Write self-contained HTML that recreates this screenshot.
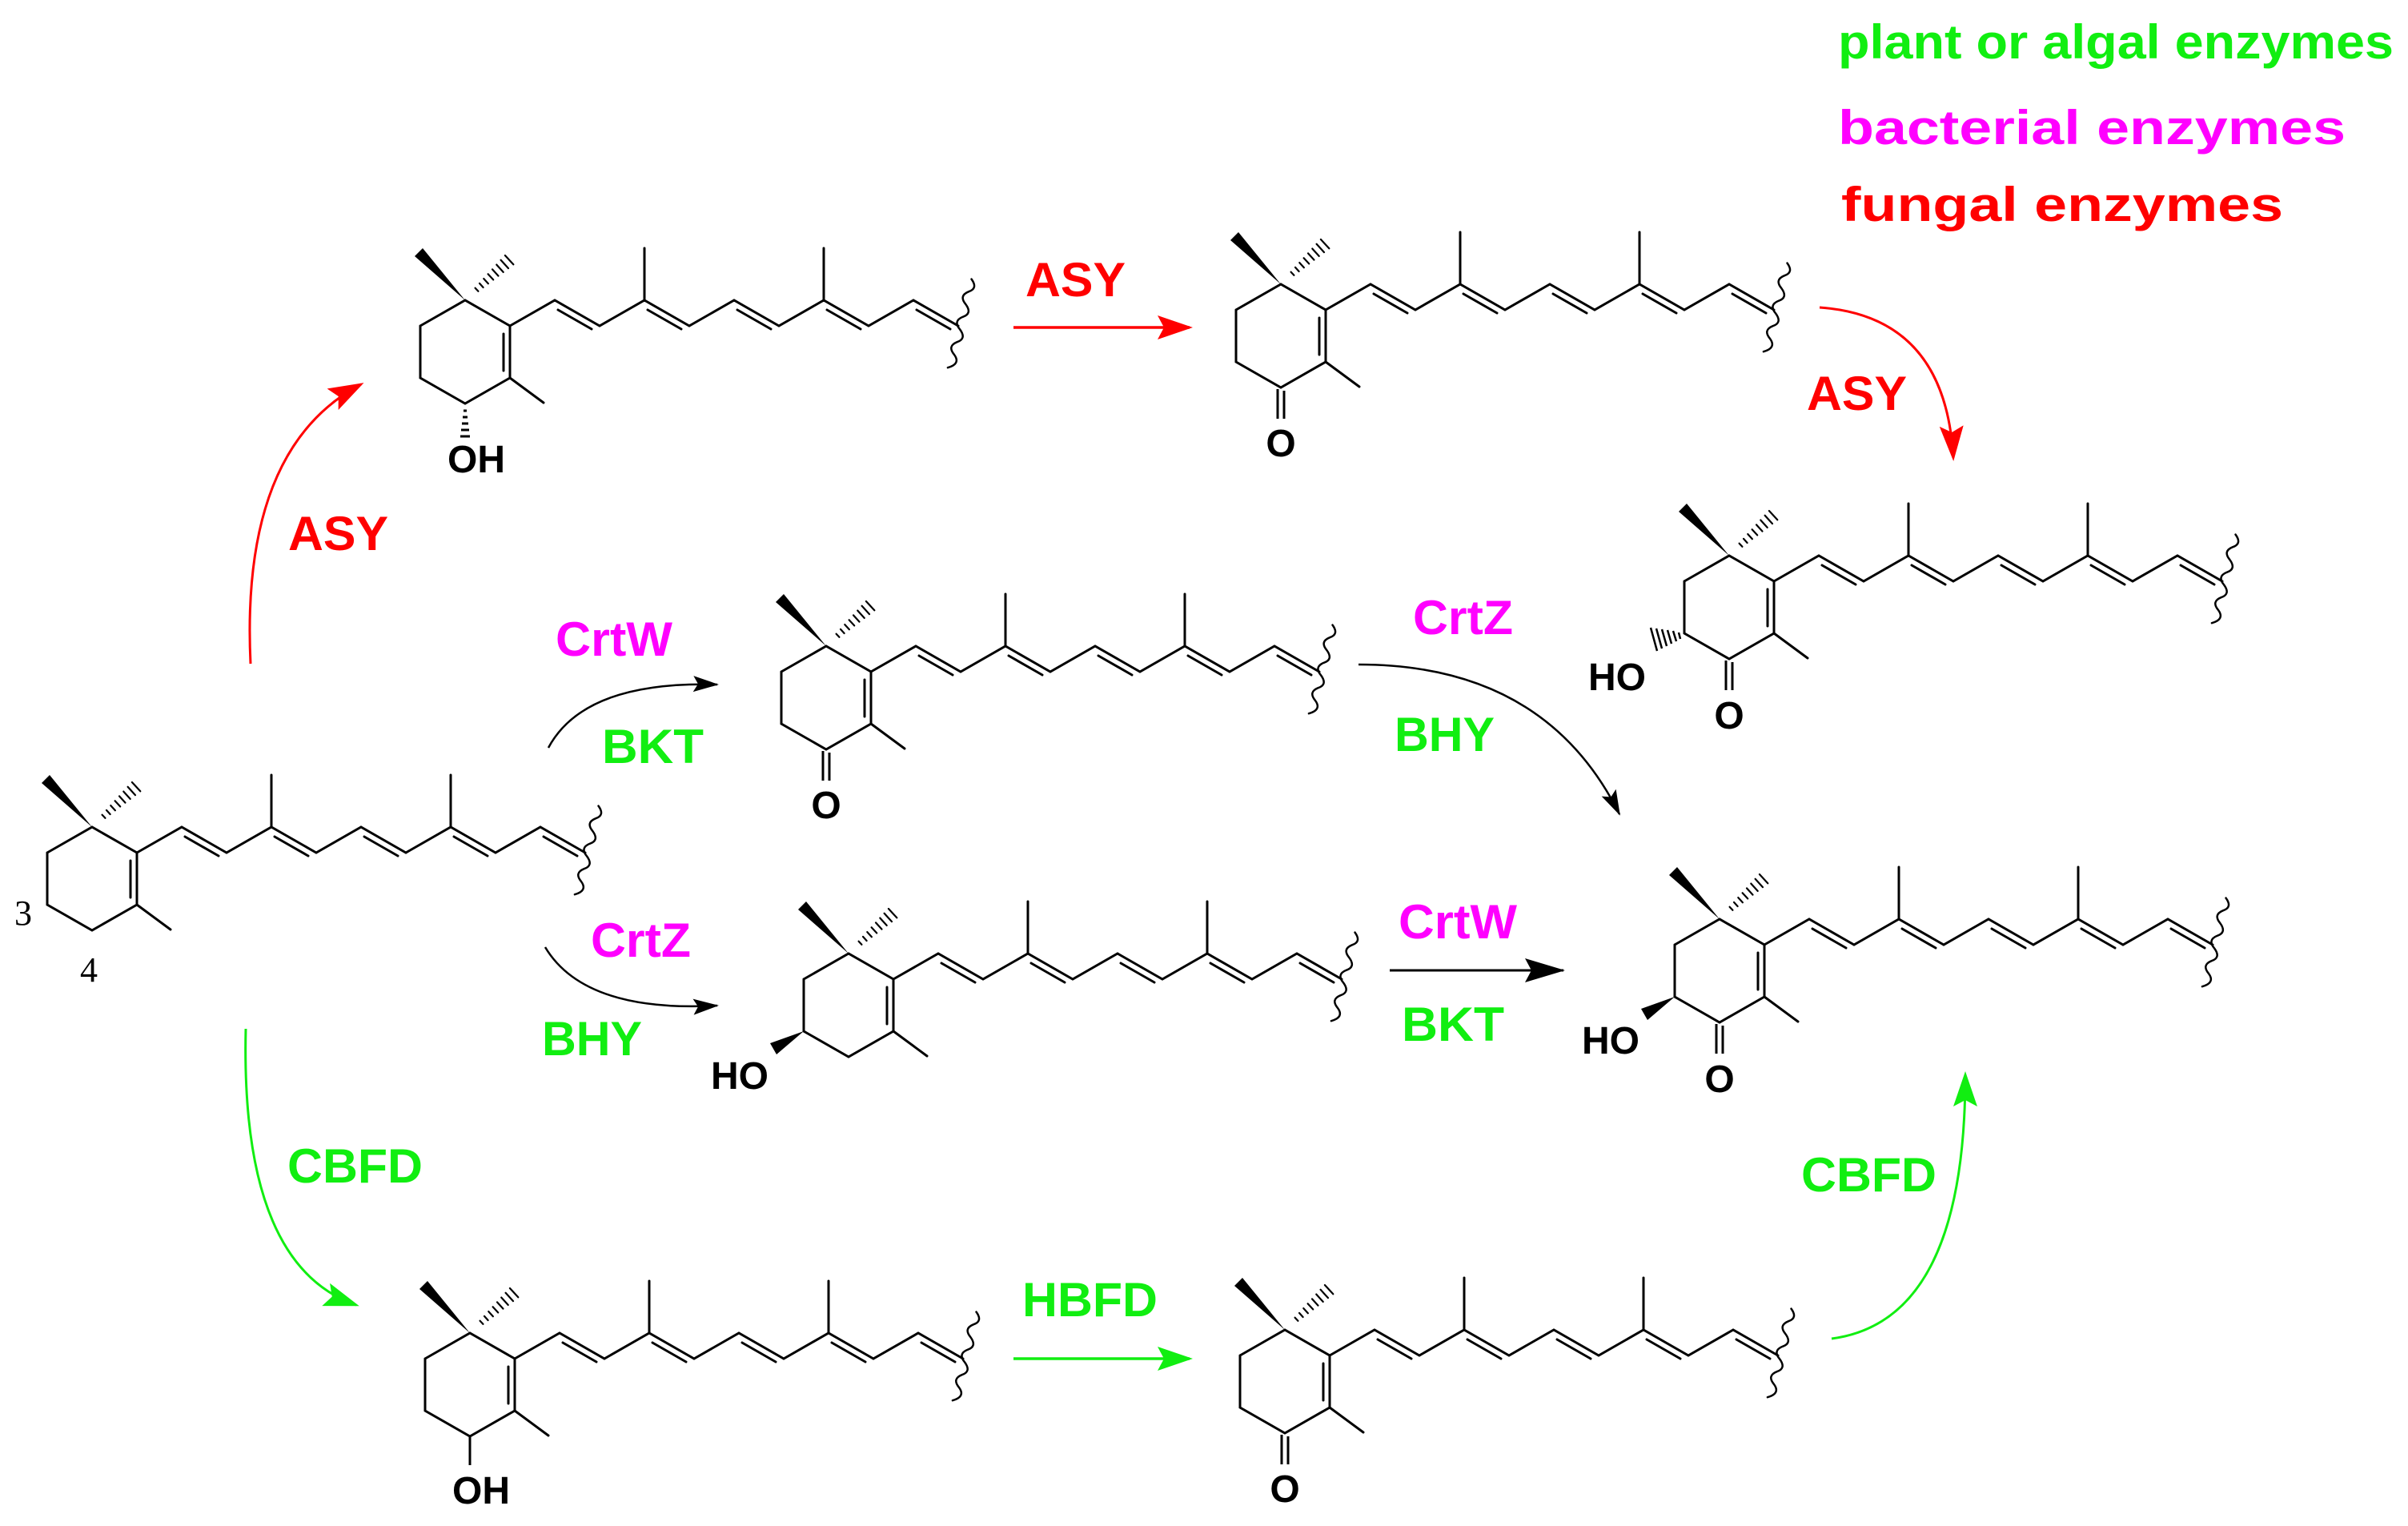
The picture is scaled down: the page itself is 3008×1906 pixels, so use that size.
<!DOCTYPE html>
<html><head><meta charset="utf-8"><style>
html,body{margin:0;padding:0;background:#fff}
svg{display:block}
text{font-family:"Liberation Sans Narrow","Liberation Sans",Arial,sans-serif;font-weight:bold}
</style></head><body>
<svg width="3008" height="1906" viewBox="0 0 3008 1906" xmlns="http://www.w3.org/2000/svg">
<defs>
<marker id="ar" markerUnits="userSpaceOnUse" markerWidth="50" markerHeight="40" refX="40" refY="15" orient="auto"><path d="M0,0 L44,15 L0,30 L8,15 Z" fill="#ff0000"/></marker>
<marker id="ag" markerUnits="userSpaceOnUse" markerWidth="50" markerHeight="40" refX="40" refY="15" orient="auto"><path d="M0,0 L44,15 L0,30 L8,15 Z" fill="#11ee11"/></marker>
<marker id="ak" markerUnits="userSpaceOnUse" markerWidth="40" markerHeight="30" refX="30" refY="10" orient="auto"><path d="M0,0 L32,10 L0,20 L6,10 Z" fill="#000"/></marker>
<marker id="akb" markerUnits="userSpaceOnUse" markerWidth="60" markerHeight="40" refX="48" refY="15" orient="auto"><path d="M0,0 L50,15 L0,30 L8,15 Z" fill="#000"/></marker>
<g id="sk" stroke="#000" stroke-width="3" fill="none" stroke-linecap="round">
<polyline points="-56,32 0,0 56,32 56,97 0,129 -56,97 -56,32"/>
<line x1="48" y1="42" x2="48" y2="88"/>
<line x1="56" y1="97" x2="98" y2="128"/>
<polyline points="56,32 112,0 168,32 224,0 280,32 336,0 392,32 448,0 504,32 560,0 616,32"/>
<line x1="224" y1="0" x2="224" y2="-65"/>
<line x1="448" y1="0" x2="448" y2="-65"/>
<line x1="116" y1="12" x2="158" y2="36"/>
<line x1="228" y1="12" x2="270" y2="36"/>
<line x1="340" y1="12" x2="382" y2="36"/>
<line x1="452" y1="12" x2="494" y2="36"/>
<line x1="564" y1="12" x2="606" y2="36"/>
<path d="M612,-30 q12,8 2,16 q-10,9 2,16 q12,8 2,16 q-10,9 2,16 q12,8 2,16 q-10,9 2,16 q12,8 -2,18" transform="rotate(20 612 30)" stroke-width="2.5"/>
<polygon points="0,0 -53,-65 -63,-55" fill="#000" stroke="none"/>
<g stroke-width="2.2">
<line x1="12.6" y1="-15.3" x2="16.4" y2="-11.2"/><line x1="18" y1="-21.1" x2="22.6" y2="-16"/>
<line x1="23.3" y1="-26.9" x2="28.9" y2="-20.8"/><line x1="28.6" y1="-32.7" x2="35.2" y2="-25.6"/>
<line x1="34" y1="-38.6" x2="41.5" y2="-30.4"/><line x1="39.3" y1="-44.4" x2="47.7" y2="-35.1"/>
<line x1="44.6" y1="-50.2" x2="54" y2="-39.9"/><line x1="49.9" y1="-56" x2="60.3" y2="-44.7"/>
</g>
</g>
<g id="keto" stroke="#000" stroke-width="3"><line x1="-4" y1="131" x2="-4" y2="168"/><line x1="4" y1="133" x2="4" y2="168"/></g>
<g id="hashdown" stroke="#000" stroke-width="3"><line x1="-2" y1="138" x2="2" y2="138"/><line x1="-3" y1="146" x2="3" y2="146"/><line x1="-4" y1="154" x2="4" y2="154"/><line x1="-5" y1="162" x2="5" y2="162"/><line x1="-6" y1="170" x2="6" y2="170"/></g>
<g id="hashleft" stroke="#000" stroke-width="2.5"><line x1="-63" y1="96" x2="-61" y2="104"/><line x1="-70" y1="94" x2="-66" y2="107"/><line x1="-77" y1="93" x2="-72" y2="110"/><line x1="-84" y1="92" x2="-78" y2="113"/><line x1="-91" y1="91" x2="-84" y2="116"/><line x1="-98" y1="90" x2="-90" y2="119"/></g>
<polygon id="wedgeleft" points="-56,97 -98,112 -90,126" fill="#000"/>
</defs>

<text x="2296" y="73" font-size="60" fill="#11ee11" textLength="694" lengthAdjust="spacingAndGlyphs">plant or algal enzymes</text>
<text x="2296" y="180" font-size="60" fill="#ff00ff" textLength="634" lengthAdjust="spacingAndGlyphs">bacterial enzymes</text>
<text x="2300" y="276" font-size="60" fill="#ff0000" textLength="552" lengthAdjust="spacingAndGlyphs">fungal enzymes</text>

<use href="#sk" x="115" y="1033"/>
<text x="18" y="1155" font-size="44" style="font-family:'Liberation Serif',serif;font-weight:normal">3</text>
<text x="100" y="1226" font-size="44" style="font-family:'Liberation Serif',serif;font-weight:normal">4</text>

<use href="#sk" x="581" y="375"/>
<use href="#hashdown" x="581" y="375"/>
<text x="559" y="590" font-size="48">OH</text>

<use href="#sk" x="1600" y="355"/>
<use href="#keto" x="1600" y="355"/>
<text x="1600" y="570" font-size="48" text-anchor="middle">O</text>

<use href="#sk" x="2160" y="694"/>
<use href="#keto" x="2160" y="694"/>
<use href="#hashleft" x="2160" y="694"/>
<text x="2160" y="910" font-size="48" text-anchor="middle">O</text>
<text x="2056" y="862" font-size="48" text-anchor="end">HO</text>

<use href="#sk" x="1032" y="807"/>
<use href="#keto" x="1032" y="807"/>
<text x="1032" y="1022" font-size="48" text-anchor="middle">O</text>

<use href="#sk" x="1060" y="1191"/>
<use href="#wedgeleft" x="1060" y="1191"/>
<text x="960" y="1360" font-size="48" text-anchor="end">HO</text>

<use href="#sk" x="2148" y="1148"/>
<use href="#keto" x="2148" y="1148"/>
<use href="#wedgeleft" x="2148" y="1148"/>
<text x="2148" y="1364" font-size="48" text-anchor="middle">O</text>
<text x="2048" y="1316" font-size="48" text-anchor="end">HO</text>

<use href="#sk" x="587" y="1665"/>
<line x1="587" y1="1794" x2="587" y2="1830" stroke="#000" stroke-width="3"/>
<text x="565" y="1878" font-size="48">OH</text>

<use href="#sk" x="1605" y="1661"/>
<use href="#keto" x="1605" y="1661"/>
<text x="1605" y="1876" font-size="48" text-anchor="middle">O</text>

<g fill="none">
<line x1="1266" y1="409" x2="1486" y2="409" stroke="#ff0000" stroke-width="3.5" marker-end="url(#ar)"/>
<path d="M2273,384 Q2430,395 2440,572" stroke="#ff0000" stroke-width="3" marker-end="url(#ar)"/>
<path d="M313,829 Q300,560 451,480" stroke="#ff0000" stroke-width="3" marker-end="url(#ar)"/>
<path d="M685,934 Q730,850 896,855" stroke="#000" stroke-width="2.5" marker-end="url(#ak)"/>
<path d="M1697,830 Q1930,830 2023,1017" stroke="#000" stroke-width="2.5" marker-end="url(#ak)"/>
<path d="M681,1183 Q730,1265 896,1256" stroke="#000" stroke-width="2.5" marker-end="url(#ak)"/>
<line x1="1736" y1="1212" x2="1953" y2="1212" stroke="#000" stroke-width="3" marker-end="url(#akb)"/>
<path d="M307,1285 Q300,1580 445,1630" stroke="#11ee11" stroke-width="3" marker-end="url(#ag)"/>
<line x1="1266" y1="1697" x2="1486" y2="1697" stroke="#11ee11" stroke-width="3.5" marker-end="url(#ag)"/>
<path d="M2288,1672 Q2455,1650 2455,1342" stroke="#11ee11" stroke-width="3" marker-end="url(#ag)"/>
</g>

<g font-size="60">
<text x="1281" y="370" fill="#ff0000" textLength="125" lengthAdjust="spacingAndGlyphs">ASY</text>
<text x="2257" y="512" fill="#ff0000" textLength="125" lengthAdjust="spacingAndGlyphs">ASY</text>
<text x="360" y="687" fill="#ff0000" textLength="125" lengthAdjust="spacingAndGlyphs">ASY</text>
<text x="694" y="819" fill="#ff00ff" textLength="146" lengthAdjust="spacingAndGlyphs">CrtW</text>
<text x="752" y="953" fill="#11ee11" textLength="127" lengthAdjust="spacingAndGlyphs">BKT</text>
<text x="1765" y="792" fill="#ff00ff" textLength="125" lengthAdjust="spacingAndGlyphs">CrtZ</text>
<text x="1742" y="938" fill="#11ee11" textLength="125" lengthAdjust="spacingAndGlyphs">BHY</text>
<text x="738" y="1195" fill="#ff00ff" textLength="125" lengthAdjust="spacingAndGlyphs">CrtZ</text>
<text x="677" y="1318" fill="#11ee11" textLength="125" lengthAdjust="spacingAndGlyphs">BHY</text>
<text x="1747" y="1172" fill="#ff00ff" textLength="148" lengthAdjust="spacingAndGlyphs">CrtW</text>
<text x="1751" y="1300" fill="#11ee11" textLength="128" lengthAdjust="spacingAndGlyphs">BKT</text>
<text x="359" y="1477" fill="#11ee11" textLength="169" lengthAdjust="spacingAndGlyphs">CBFD</text>
<text x="2250" y="1488" fill="#11ee11" textLength="169" lengthAdjust="spacingAndGlyphs">CBFD</text>
<text x="1277" y="1644" fill="#11ee11" textLength="169" lengthAdjust="spacingAndGlyphs">HBFD</text>
</g>
</svg>
</body></html>
